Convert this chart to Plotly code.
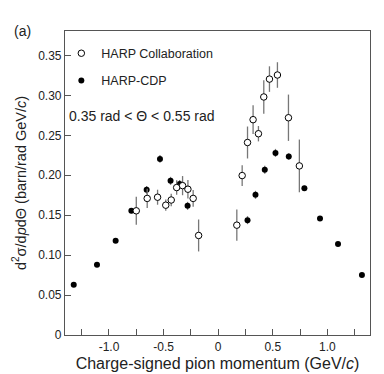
import plotly.graph_objects as go

# HARP Collaboration (open circles)
harp_x = [-0.75, -0.65, -0.555, -0.48, -0.43, -0.38, -0.326, -0.277, -0.229, -0.179,
          0.171, 0.22, 0.269, 0.32, 0.369, 0.418, 0.47, 0.543, 0.644, 0.744]
harp_y = [0.1555, 0.171, 0.1725, 0.1625, 0.169, 0.1846, 0.187, 0.1825, 0.171, 0.1246,
          0.1375, 0.1996, 0.241, 0.2696, 0.252, 0.298, 0.3204, 0.3255, 0.272, 0.2117]
harp_err = [0.0175, 0.012, 0.0094, 0.007, 0.0077, 0.009, 0.012, 0.0115, 0.0104, 0.02,
            0.0196, 0.013, 0.02, 0.018, 0.0096, 0.021, 0.016, 0.016, 0.029, 0.033]

# HARP-CDP (filled circles)
cdp_x = [-1.323, -1.11, -0.939, -0.795, -0.655, -0.533, -0.436, -0.353, -0.28,
         0.269, 0.342, 0.427, 0.525, 0.647, 0.79, 0.933, 1.098, 1.317]
cdp_y = [0.063, 0.088, 0.118, 0.1555, 0.1817, 0.2205, 0.193, 0.189, 0.1617,
         0.1438, 0.1755, 0.207, 0.228, 0.2234, 0.1838, 0.146, 0.1138, 0.075]
cdp_err = [0.002, 0.002, 0.002, 0.003, 0.005, 0.005, 0.005, 0.005, 0.005,
           0.005, 0.005, 0.005, 0.005, 0.004, 0.003, 0.002, 0.002, 0.002]

x_ticks = [-1.25, -1.0, -0.75, -0.5, -0.25, 0, 0.25, 0.5, 0.75, 1.0, 1.25]
x_labels = ["", "-1.0", "", "-0.5", "", "0", "", "0.5", "", "1.0", ""]
y_ticks = [0, 0.05, 0.10, 0.15, 0.20, 0.25, 0.30, 0.35]
y_labels = ["0", "0.05", "0.10", "0.15", "0.20", "0.25", "0.30", "0.35"]

font = "Liberation Sans, Arial, sans-serif"
frame = "#555555"

fig = go.Figure()
fig.add_trace(go.Scatter(
    x=cdp_x, y=cdp_y, mode="markers", name="HARP-CDP", legendgroup="b",
    marker=dict(symbol="circle", size=6, color="black"),
    error_y=dict(type="data", array=cdp_err, color="#777777", thickness=1.3, width=0),
    legendrank=2,
))
fig.add_trace(go.Scatter(
    x=harp_x, y=harp_y, mode="markers", name="HARP Collaboration", legendgroup="a",
    marker=dict(symbol="circle", size=6.5, color="white", line=dict(color="black", width=1)),
    error_y=dict(type="data", array=harp_err, color="#777777", thickness=1.3, width=0),
    legendrank=1,
))

fig.add_annotation(x=0.005, y=0.72, xref="paper", yref="paper", showarrow=False,
                   xanchor="left", yanchor="middle",
                   text="0.35 rad &lt; Θ &lt; 0.55 rad", font=dict(size=14, color="#222"))
fig.add_annotation(x=-0.175, y=1.0, xref="paper", yref="paper", showarrow=False,
                   xanchor="left", yanchor="middle",
                   text="(a)", font=dict(size=14, color="#222"))

fig.update_layout(
    width=384, height=374,
    margin=dict(l=57, r=22, t=23, b=47),
    paper_bgcolor="white", plot_bgcolor="white",
    font=dict(family=font, size=12, color="#222"),
    showlegend=True,
    legend=dict(x=-0.012, y=0.975, xanchor="left", yanchor="top",
                bgcolor="rgba(0,0,0,0)", font=dict(size=12.5, color="#222"),
                tracegroupgap=8, traceorder="grouped"),
    xaxis=dict(
        range=[-1.403, 1.391], tickvals=x_ticks, ticktext=x_labels,
        ticks="inside", ticklen=6, tickcolor=frame, showgrid=False, zeroline=False,
        showline=True, linecolor=frame, linewidth=1.2, mirror=True,
        tickfont=dict(size=12),
        title=dict(text="Charge-signed pion momentum (GeV/<i>c</i>)", font=dict(size=16), standoff=5),
    ),
    yaxis=dict(
        range=[0, 0.3806], tickvals=y_ticks, ticktext=y_labels,
        ticks="inside", ticklen=6, tickcolor=frame, showgrid=False, zeroline=False,
        showline=True, linecolor=frame, linewidth=1.2, mirror=True,
        tickfont=dict(size=12),
        title=dict(text="d<sup>2</sup>σ/d<i>p</i>dΘ (barn/rad GeV/<i>c</i>)", font=dict(size=14.5), standoff=8),
    ),
)

fig.write_html("out.html")
